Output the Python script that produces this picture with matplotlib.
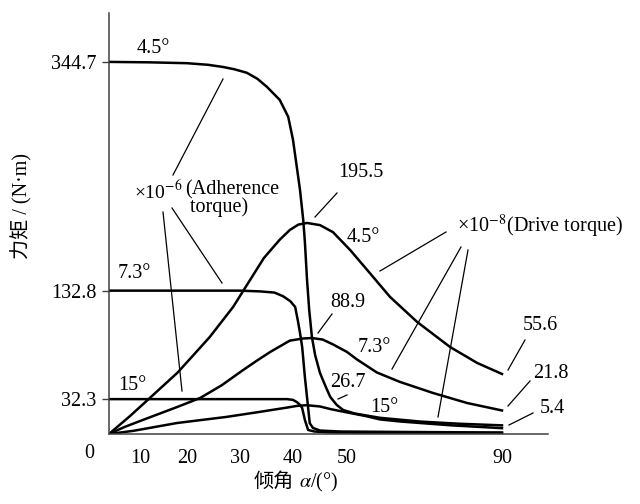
import numpy as np
import matplotlib
matplotlib.use("Agg")
import matplotlib.pyplot as plt
from matplotlib.lines import Line2D

plt.rcParams["font.family"] = ["Liberation Serif", "Noto Sans CJK SC"]
plt.rcParams["mathtext.fontset"] = "stix"

# 附着力矩 (x1e-6), 横坐标为倾角 α
adh45_a = [0, 12, 20, 24, 26.8, 29, 31.3, 33.3, 35.1, 37.5, 39.1, 40.0, 40.7, 41.3, 41.9, 42.2, 42.6, 43.0, 43.5, 44.1, 45, 46, 46.9, 48.1, 49.3, 52, 58.5, 69, 79, 90]
adh45_v = [344.7, 344.3, 343.5, 342, 340, 337.8, 334.6, 329, 321.5, 309.5, 293.8, 272.5, 247.5, 226, 198, 178, 142.7, 115, 90, 73, 56.5, 44.5, 34.3, 26.9, 22.2, 19.0, 15.0, 11.5, 9.5, 8.0]

adh73_a = [0, 30, 33.8, 36.5, 38.1, 39.5, 40.4, 40.9, 41.3, 41.7, 42.2, 42.6, 43.1, 43.7, 45, 48.7, 63.7, 90]
adh73_v = [132.8, 132.8, 132.1, 131, 127.7, 123, 117.7, 105, 93.6, 80.6, 52.8, 34, 10, 5.6, 3.2, 2.3, 1.9, 1.4]

adh15_a = [0, 22.5, 38.9, 40.0, 40.7, 41.3, 41.7, 42.2, 42.8, 44.0, 47, 64, 90]
adh15_v = [32.3, 32.3, 32.3, 31.6, 29.6, 27, 24, 13, 3.7, 2.3, 1.4, 0.9, 0.9]

# 驱动力矩 (x1e-8)
drv45_a = [0, 6.8, 12.1, 17.9, 21.2, 24.3, 28.7, 31.9, 34.5, 37.5, 39.4, 41.0, 42.6, 45, 47.4, 50.8, 55.2, 61.1, 68.1, 76.6, 83.6, 90]
drv45_v = [0, 16.7, 33.4, 56.5, 73, 89.9, 117.7, 142.7, 163, 180, 189, 194, 195.5, 193.5, 187, 170.5, 152, 127, 103.8, 80.6, 65.8, 55.6]

drv73_a = [0, 5, 10.6, 17.9, 22.5, 26.5, 30.6, 33.2, 35.7, 39.4, 41.9, 43.5, 45.5, 47.4, 50, 52.6, 57.7, 63.7, 72.2, 81, 90]
drv73_v = [0, 6.5, 13, 25, 33.4, 45, 59.3, 68, 76, 86.5, 88.5, 88.9, 87.5, 83, 76, 69, 57, 48.2, 38, 28.7, 21.8]

drv15_a = [0, 8, 17.9, 27.4, 33.6, 38.9, 40.7, 42.5, 45, 47, 50, 55, 58.5, 64, 77, 90]
drv15_v = [0, 3, 10.2, 15.8, 20.4, 24.5, 26, 26.7, 25.5, 23, 20, 16.5, 13.5, 11.5, 8.0, 5.4]

xticks = [10, 20, 30, 40, 50, 90]
yticks = [32.3, 132.8, 344.7]

# 示意图的横轴刻度不均匀
A_pos = [0, 10, 20, 30, 40, 50, 90, 100]
P_pos = [109, 140, 187, 240, 293, 347, 502, 548]


def fwd(a):
    return np.interp(a, A_pos, P_pos)


def inv(p):
    return np.interp(p, P_pos, A_pos)


fs = 14.5
fig = plt.figure(figsize=(6.4, 5.04), dpi=100)
ax = fig.add_axes([109 / 640, 1 - 434 / 504, (548 - 109) / 640, (434 - 13) / 504])
ax.set_xscale("function", functions=(fwd, inv))
ax.set_xlim(0, 100)
ax.set_ylim(0, 390)

for a, v in [(adh45_a, adh45_v), (adh73_a, adh73_v), (adh15_a, adh15_v),
             (drv45_a, drv45_v), (drv73_a, drv73_v), (drv15_a, drv15_v)]:
    ax.plot(a, v, color="black", lw=1.8, solid_joinstyle="round")

ax.spines["top"].set_visible(False)
ax.spines["right"].set_visible(False)
for s in ["left", "bottom"]:
    ax.spines[s].set_color("#404040")
    ax.spines[s].set_linewidth(1.1)

ax.set_xticks(xticks)
ax.set_xticklabels([str(t) for t in xticks], fontsize=fs)
ax.set_yticks(yticks)
ax.set_yticklabels([str(t) for t in yticks], fontsize=fs)
ax.xaxis.set_minor_locator(plt.NullLocator())
ax.tick_params(axis="x", length=0, pad=11)
ax.tick_params(axis="y", direction="out", length=5, width=1.0, pad=4, color="#404040")


def px(x, y):
    return x / 640, 1 - y / 504


def label(x, y, s, size=fs, **kw):
    fig.text(*px(x, y), s, fontsize=size, ha="left", va="baseline", **kw)


label(137, 53, "4.5°")
label(134, 199, r"×10$^{-6}$", size=14)
fig.text(*px(185, 180), "(Adherence\n torque)", fontsize=fs, ha="left", va="top",
         linespacing=0.85)
label(338, 177, "195.5")
label(347, 242, "4.5°")
label(457, 232, r"×10$^{-8}$(Drive torque)")
label(118, 278, "7.3°")
label(330, 307, "88.9")
label(358, 352, "7.3°")
label(330, 387, "26.7")
label(370, 412, "15°")
label(118, 390, "15°")
label(523, 330, "55.6")
label(533, 378, "21.8")
label(540, 413, "5.4")
label(84, 458, "0")

fig.text(*px(294, 487), "倾角", fontsize=fs, ha="right", va="baseline",
         family="Noto Sans CJK SC")
fig.text(*px(299, 487), r"$\alpha$/(°)", fontsize=fs, ha="left", va="baseline")
fig.text(*px(22, 206), "力矩 / (N·m)", fontsize=fs, ha="center", va="center",
         rotation=90)

pointers = [
    ((173, 175), (223, 79)),
    ((163, 212), (182, 391)),
    ((172, 208), (222, 283)),
    ((337, 193), (315, 217)),
    ((446, 232), (380, 271)),
    ((461, 247), (392, 369)),
    ((468, 250), (438, 417)),
    ((332, 314), (318, 333)),
    ((347, 395), (338, 399)),
    ((525, 340), (508, 370)),
    ((530, 381), (508, 406)),
    ((533, 413), (509, 425)),
]
for (x1, y1), (x2, y2) in pointers:
    p1, p2 = px(x1, y1), px(x2, y2)
    fig.add_artist(Line2D([p1[0], p2[0]], [p1[1], p2[1]], transform=fig.transFigure,
                          color="black", lw=0.9))

fig.savefig("out.png", dpi=100)
